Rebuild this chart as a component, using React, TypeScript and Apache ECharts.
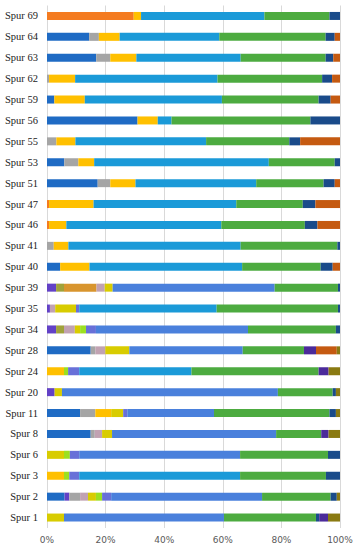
import React, { useEffect, useRef } from "react";
import * as echarts from "echarts";

const categories = [
  "Spur 69", "Spur 64", "Spur 63", "Spur 62", "Spur 59", "Spur 56", "Spur 55",
  "Spur 53", "Spur 51", "Spur 47", "Spur 46", "Spur 41", "Spur 40", "Spur 39",
  "Spur 35", "Spur 34", "Spur 28", "Spur 24", "Spur 20", "Spur 11", "Spur 8",
  "Spur 6", "Spur 3", "Spur 2", "Spur 1",
];

const orange = [29.6, 0, 0, 0, 0, 0, 0, 0, 0, 0.7, 0.7, 0, 0, 0, 0, 0, 0, 0, 0, 0, 0, 0, 0, 0, 0];
const darkBlue = [0, 14.4, 16.8, 0, 2.5, 30.9, 0, 5.9, 17.3, 0, 0, 0, 4.5, 0, 0, 0, 14.9, 0, 0, 11.3, 14.9, 0, 0, 6.0, 0];
const purple = [0, 0, 0, 0, 0, 0, 0, 0, 0, 0, 0, 0, 0, 3.1, 1.0, 3.1, 0, 0, 2.6, 0, 0, 0, 0, 1.6, 0];
const olive = [0, 0, 0, 0, 0, 0, 0, 0, 0, 0, 0, 0, 0, 2.7, 0, 2.7, 0, 0, 0, 0, 0, 0, 0, 0, 0];
const gray = [0, 3.3, 4.8, 0.7, 0, 0, 3.2, 4.8, 4.3, 0, 0, 2.3, 0, 0, 0, 0, 1.6, 0, 0, 5.2, 1.4, 0, 0, 3.7, 0];
const orangeBrown = [0, 0, 0, 0, 0, 0, 0, 0, 0, 0, 0, 0, 0, 11.1, 0, 0, 0, 0, 0, 0, 0, 0, 0, 0, 0];
const mauve = [0, 0, 0, 0, 0, 0, 0, 0, 0, 0, 0, 0, 0, 2.8, 1.8, 3.7, 3.4, 0, 0, 0, 2.5, 0, 0, 2.7, 0];
const yellow = [2.5, 7.1, 8.9, 8.9, 10.4, 6.9, 6.5, 5.4, 8.6, 15.2, 5.9, 5.0, 10.0, 0, 0, 0, 0, 5.8, 0, 5.4, 0, 0, 5.8, 0, 0];
const yellowGreen = [0, 0, 0, 0, 0, 0, 0, 0, 0, 0, 0, 0, 0, 2.7, 7.1, 1.8, 8.2, 0, 2.5, 4.1, 3.4, 5.8, 0, 2.7, 5.8];
const lime = [0, 0, 0, 0, 0, 0, 0, 0, 0, 0, 0, 0, 0, 0, 0, 2.0, 0, 1.4, 0, 0, 0, 2.0, 1.8, 2.1, 0];
const purpleBlue = [0, 0, 0, 0, 0, 0, 0, 0, 0, 0, 0, 0, 0, 0, 1.1, 3.4, 0, 3.8, 0, 1.4, 0, 3.2, 3.4, 3.1, 0];
const mediumBlue = [0, 0, 0, 0, 0, 0, 0, 0, 0, 0, 0, 0, 0, 55.3, 0, 51.9, 38.7, 0, 73.7, 29.6, 56.0, 54.9, 0, 51.5, 54.6];
const lightBlue = [42.1, 34.0, 35.6, 48.6, 46.8, 4.7, 44.6, 59.6, 41.2, 48.7, 52.9, 58.8, 52.1, 0, 46.9, 0, 0, 38.3, 0, 0, 0, 0, 54.9, 0, 0];
const green = [22.2, 36.3, 29.0, 35.7, 33.0, 47.4, 28.4, 22.5, 23.0, 22.7, 28.5, 33.0, 26.8, 21.6, 41.4, 30.0, 20.9, 43.4, 18.7, 39.4, 15.4, 30.0, 29.3, 23.4, 31.4];
const navy = [3.6, 3.1, 2.6, 3.4, 4.1, 10.1, 3.7, 1.8, 3.8, 4.3, 4.3, 0.9, 4.1, 0.7, 0.7, 1.4, 0, 0, 1.1, 2.2, 0, 4.1, 4.8, 2.1, 1.1];
const darkPurple = [0, 0, 0, 0, 0, 0, 0, 0, 0, 0, 0, 0, 0, 0, 0, 0, 4.1, 3.4, 0, 0, 2.5, 0, 0, 0, 3.0];
const orangeRed = [0, 1.8, 2.3, 2.7, 3.2, 0, 13.6, 0, 1.8, 8.4, 7.7, 0, 2.5, 0, 0, 0, 7.1, 0, 0, 0, 0, 0, 0, 0, 0];
const oliveBrown = [0, 0, 0, 0, 0, 0, 0, 0, 0, 0, 0, 0, 0, 0, 0, 0, 1.1, 3.9, 1.4, 1.4, 3.9, 0, 0, 1.1, 4.1];

const xTicks = [0, 20, 40, 60, 80, 100];

const seriesDefs: [string, number[], string][] = [
  ["orange", orange, "#f47b20"],
  ["darkBlue", darkBlue, "#1f6bc4"],
  ["purple", purple, "#6241c6"],
  ["olive", olive, "#a0a23a"],
  ["gray", gray, "#a5a5a5"],
  ["orangeBrown", orangeBrown, "#d8952e"],
  ["mauve", mauve, "#c1a2b2"],
  ["yellow", yellow, "#ffc000"],
  ["yellowGreen", yellowGreen, "#d8cc00"],
  ["lime", lime, "#9be020"],
  ["purpleBlue", purpleBlue, "#6870d8"],
  ["mediumBlue", mediumBlue, "#4a80dc"],
  ["lightBlue", lightBlue, "#1b9ad8"],
  ["green", green, "#4dab40"],
  ["navy", navy, "#1a4b8a"],
  ["darkPurple", darkPurple, "#4b2a9a"],
  ["orangeRed", orangeRed, "#c55a11"],
  ["oliveBrown", oliveBrown, "#8a7a12"],
];

export default function App() {
  const ref = useRef<HTMLDivElement>(null);
  useEffect(() => {
    document.body.style.margin = "0";
    const chart = echarts.init(ref.current!, null, { renderer: "svg" });
    chart.setOption({
      animation: false,
      backgroundColor: "#ffffff",
      grid: { left: 47, right: 18, top: 5.5, bottom: 22, containLabel: false },
      xAxis: {
        type: "value",
        min: xTicks[0],
        max: xTicks[xTicks.length - 1],
        interval: 20,
        axisLine: { show: false },
        axisTick: { show: false },
        splitLine: { show: true, lineStyle: { color: "#d9d9d9", width: 1 } },
        axisLabel: {
          formatter: "{value}%",
          color: "#595959",
          fontFamily: "DejaVu Sans",
          fontSize: 9,
          margin: 7,
        },
      },
      yAxis: {
        type: "category",
        data: categories,
        inverse: true,
        axisLine: { show: false },
        axisTick: { show: false },
        splitLine: { show: false },
        axisLabel: {
          color: "#222222",
          fontFamily: "Liberation Serif",
          fontSize: 10.5,
          margin: 9,
        },
      },
      series: seriesDefs.map(([name, data, color]) => ({
        name,
        type: "bar",
        stack: "total",
        data,
        barWidth: 8,
        itemStyle: { color },
        emphasis: { disabled: true },
      })),
    });
    return () => chart.dispose();
  }, []);
  return <div ref={ref} style={{ width: 358, height: 550 }} />;
}
